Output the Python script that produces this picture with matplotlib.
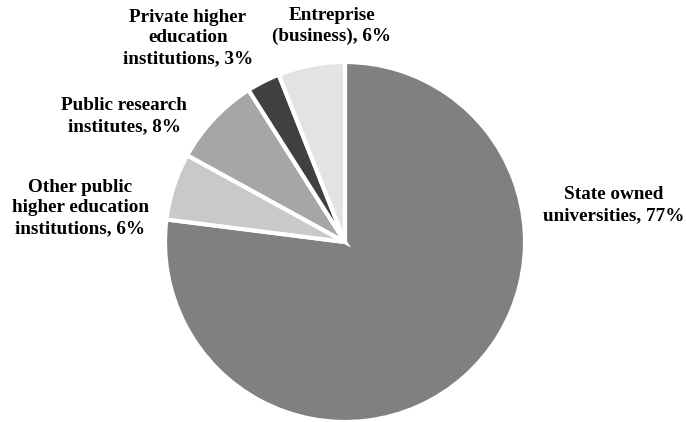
import matplotlib.pyplot as plt

# =============================
# DATA
# =============================

labels = [
    "State owned\nuniversities, 77%",
    "Other public\nhigher education\ninstitutions, 6%",
    "Public research\ninstitutes, 8%",
    "Private higher\neducation\ninstitutions, 3%",
    "Entreprise\n(business), 6%",
]
shares = [77, 6, 8, 3, 6]
colors = ["#808080", "#c9c9c9", "#a6a6a6", "#404040", "#e3e3e3"]

# label centres in pixel coords (x, y from top)
label_pos = [(614, 205), (80, 208), (124, 116), (188, 38), (332, 26)]

W, H = 686, 422

# =============================
# PLOT
# =============================

plt.rcParams["font.family"] = ["Liberation Serif", "DejaVu Serif"]

fig = plt.figure(figsize=(W / 100, H / 100), dpi=100)
cx, cy, r = 345, 242, 180
ax = fig.add_axes([(cx - r) / W, (H - cy - r) / H, 2 * r / W, 2 * r / H])

ax.pie(
    shares,
    colors=colors,
    startangle=90,
    counterclock=False,
    radius=1,
    wedgeprops=dict(edgecolor="white", linewidth=3),
)
ax.set_xlim(-1, 1)
ax.set_ylim(-1, 1)
ax.set_aspect("equal")
ax.axis("off")

for text, (px, py) in zip(labels, label_pos):
    fig.text(px / W, 1 - py / H, text, ha="center", va="center",
             fontsize=13.8, fontweight="bold", linespacing=1.3)

fig.savefig("out.png", dpi=100)
